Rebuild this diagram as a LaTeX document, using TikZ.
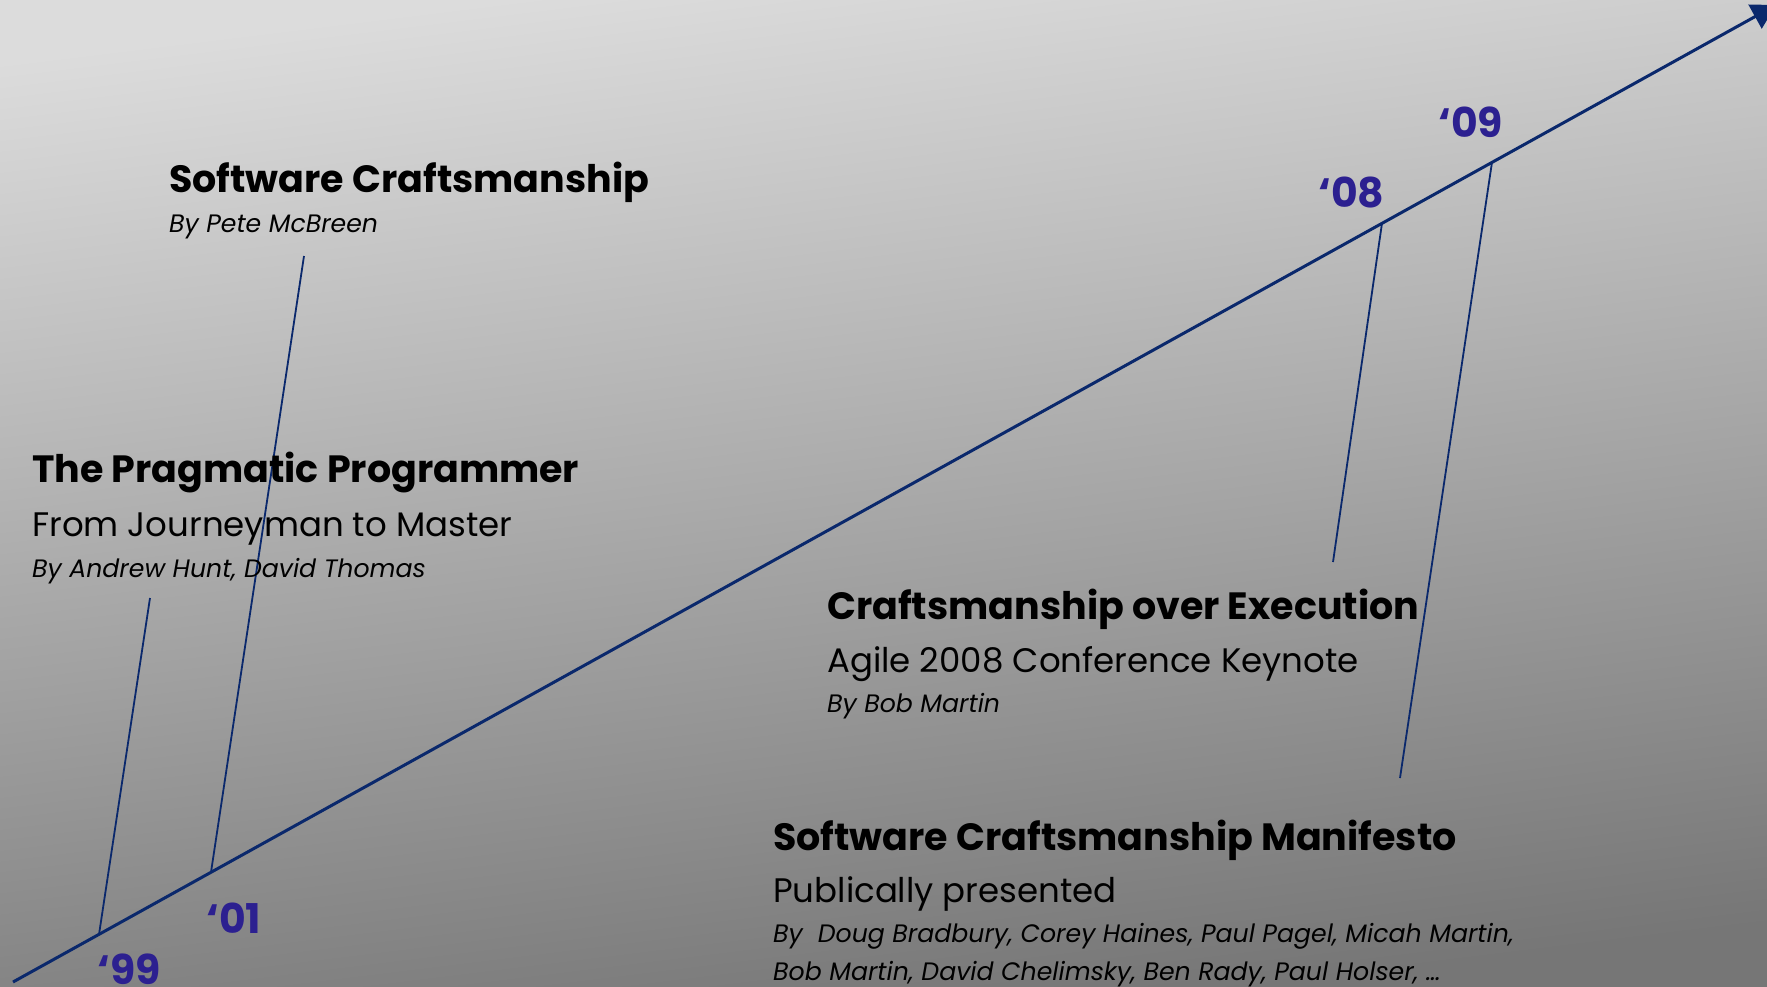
\documentclass[tikz,border=0pt]{standalone}
\usepackage{fontspec}
\setmainfont{Poppins}
\usetikzlibrary{arrows.meta}

\definecolor{bglight}{RGB}{220,220,220}
\definecolor{bgdark}{RGB}{118,118,118}
\definecolor{axisblue}{RGB}{10,40,108}
\definecolor{yearblue}{RGB}{44,32,144}

\tikzset{
  title/.style={inner sep=0pt, anchor=base west, font=\fontsize{38}{42}\selectfont\bfseries},
  subtitle/.style={inner sep=0pt, anchor=base west, font=\fontsize{34}{38}\selectfont},
  byline/.style={inner sep=0pt, anchor=base west, font=\fontsize{25.2}{29}\selectfont\itshape},
  year/.style={inner sep=0pt, anchor=base west, text=yearblue, font=\fontsize{41}{45}\selectfont\bfseries},
  axis/.style={draw=axisblue, line width=3pt, -{Triangle[length=24pt,width=27pt]}},
  tick/.style={draw=axisblue, line width=1.8pt},
}

\begin{document}
\begin{tikzpicture}[x=1pt,y=-1pt]
  % canvas and soft grey backdrop
  \useasboundingbox (0,0) rectangle (1767,986);
  \shade[top color=bglight, bottom color=bgdark, shading angle=7] (0,0) rectangle (1767,986);

  % time axis
  \coordinate (start) at (13,982);
  \coordinate (tip) at (1776,5);
  \path (start) -- (tip)
    coordinate[pos=0.0488] (t99)
    coordinate[pos=0.1123] (t01)
    coordinate[pos=0.7765] (t08)
    coordinate[pos=0.8389] (t09);
  \draw[axis] (start) -- (tip);

  % free ends of the pointer lines
  \coordinate (e99) at (150,598);
  \coordinate (e01) at (304,256);
  \coordinate (e08) at (1333,562);
  \coordinate (e09) at (1400,778);
  \draw[tick] (t99) -- (e99);
  \draw[tick] (t01) -- (e01);
  \draw[tick] (t08) -- (e08);
  \draw[tick] (t09) -- (e09);

  % years
  \node[year] (y99) at (97,984) {‘99};
  \node[year] (y01) at (206,933) {‘01};
  \node[year] (y08) at (1318,207) {‘08};
  \node[year] (y09) at (1438,137) {‘09};

  % 2001
  \node[title]  (sc)   at (169,192) {Software Craftsmanship};
  \node[byline] (scby) at (169,232) {By Pete McBreen};

  % 1999
  \node[title]    (pp)   at (32,482) {The Pragmatic Programmer};
  \node[subtitle] (ppsub) at (32,536) {From Journeyman to Master};
  \node[byline]   (ppby) at (32,577) {By Andrew Hunt, David Thomas};

  % 2008
  \node[title]    (ce)   at (827,619) {Craftsmanship over Execution};
  \node[subtitle] (cesub) at (827,672) {Agile 2008 Conference Keynote};
  \node[byline]   (ceby) at (827,712) {By Bob Martin};

  % 2009
  \node[title]    (sm)    at (773,850) {Software Craftsmanship Manifesto};
  \node[subtitle] (smsub) at (773,902) {Publically presented};
  \node[byline]   (smby1) at (773,942) {By\ \ Doug Bradbury, Corey Haines, Paul Pagel, Micah Martin,};
  \node[byline]   (smby2) at (773,980) {Bob Martin, David Chelimsky, Ben Rady, Paul Holser, …};
\end{tikzpicture}
\end{document}
